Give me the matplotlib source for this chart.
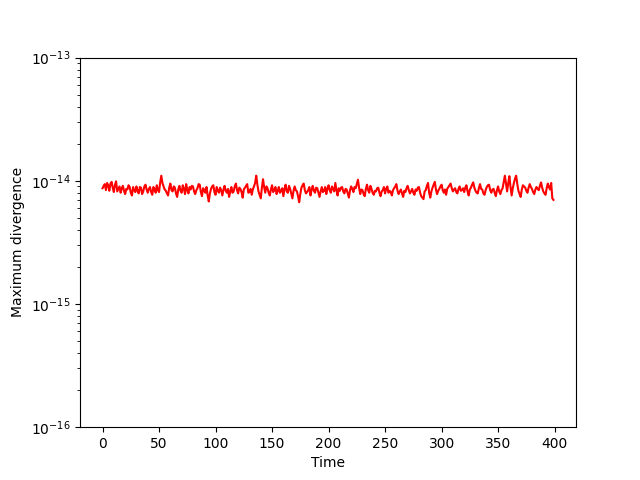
import numpy as np
import matplotlib
matplotlib.use("Agg")
import matplotlib.pyplot as plt

# one sample per time unit
time = np.arange(0, 400)

# maximum divergence (units of 1e-15)
# values at even times
div_even = [
    8.7, 9.4, 9.6, 8.3, 9.8, 8.1, 9.9, 8.6, 8.0, 9.1, 7.8, 8.5, 8.9, 7.6, 8.4, 9.0, 7.9, 8.8, 8.2, 9.3,
    8.0, 8.9, 7.7, 8.6, 9.2, 8.1, 11.0, 9.0, 8.3, 7.6, 9.5, 8.2, 8.8, 7.4, 9.1, 8.0, 8.6, 9.4, 7.9, 8.5,
    9.0, 7.8, 8.7, 9.3, 7.5, 8.4, 8.9, 6.8, 8.6, 9.2, 7.7, 8.3, 8.8, 7.6, 9.1, 8.0, 7.4, 8.9, 8.2, 9.5,
    7.9, 8.6, 7.3, 8.8, 9.4, 8.1, 7.7, 9.0, 11.0, 8.2, 7.2, 10.3, 8.0, 8.7, 7.6, 9.2, 8.4, 7.8, 8.9, 8.3,
    7.5, 9.3, 8.0, 8.6, 7.2, 9.0, 8.2, 6.7, 8.8, 9.5, 7.9, 8.4, 7.6, 9.1, 8.0, 8.7, 7.4, 8.9, 8.3, 7.8,
    9.2, 8.0, 8.6, 9.6, 7.6, 8.3, 8.9, 7.9, 8.5, 7.3, 9.0, 8.1, 8.7, 10.2, 7.8, 8.4, 7.5, 9.3, 8.0, 8.6,
    7.7, 8.2, 8.8, 7.5, 8.4, 7.9, 9.0, 8.3, 7.6, 8.7, 9.4, 7.8, 8.5, 7.4, 8.1, 9.1, 7.9, 8.6, 7.7, 8.3,
    8.9, 7.5, 7.1, 8.4, 9.6, 7.3, 8.8, 9.8, 7.8, 8.6, 9.3, 8.0, 7.7, 8.9, 9.5, 8.2, 8.7, 7.9, 9.0, 8.4,
    8.1, 9.2, 7.6, 8.8, 9.7, 8.3, 7.9, 9.4, 8.5, 7.7, 8.9, 9.3, 8.0, 8.6, 7.5, 9.0, 7.8, 8.7, 11.0, 8.2,
    10.9, 7.6, 9.6, 11.0, 8.3, 7.4, 9.2, 8.8, 8.0, 9.4, 8.6, 7.8, 8.9, 8.4, 9.7, 8.2, 7.7, 9.5, 8.5, 7.2,
]
# values at odd times
div_odd = [
    9.1, 8.4, 9.2, 9.5, 8.8, 9.3, 8.2, 9.0, 8.7, 8.3, 8.6, 9.2, 8.0, 8.9, 8.1, 8.3, 8.9, 7.8, 9.0, 8.5,
    8.6, 8.1, 8.9, 8.0, 8.4, 9.7, 9.6, 8.5, 7.9, 8.8, 8.4, 9.0, 7.9, 8.5, 8.3, 9.2, 7.8, 8.4, 8.9, 9.1,
    8.2, 8.4, 9.4, 8.1, 8.7, 8.0, 7.6, 7.9, 9.0, 8.1, 8.9, 8.0, 8.4, 8.5, 8.3, 8.6, 8.2, 8.0, 9.0, 8.4,
    8.8, 8.1, 8.5, 9.1, 8.0, 8.6, 8.5, 9.6, 9.3, 7.7, 8.8, 8.9, 9.0, 8.0, 8.5, 8.1, 8.9, 8.3, 8.0, 8.7,
    8.6, 8.2, 9.1, 7.9, 8.3, 8.4, 7.5, 7.8, 9.2, 8.4, 8.1, 8.9, 8.5, 8.3, 8.8, 8.0, 8.2, 8.1, 8.9, 8.6,
    8.4, 9.0, 8.2, 8.4, 8.7, 8.8, 8.2, 8.6, 7.9, 8.4, 8.6, 8.9, 9.4, 8.8, 8.5, 7.8, 8.6, 8.4, 9.1, 8.0,
    8.3, 8.7, 8.0, 8.2, 8.9, 8.6, 8.0, 8.1, 8.4, 9.0, 8.3, 8.2, 7.9, 8.3, 8.7, 8.4, 8.2, 8.0, 8.5, 8.8,
    8.0, 7.3, 8.2, 9.1, 8.0, 8.2, 9.3, 8.5, 8.3, 9.0, 8.4, 8.5, 8.6, 9.2, 8.7, 8.5, 8.1, 8.6, 8.3, 8.7,
    8.8, 8.2, 8.5, 9.3, 8.8, 8.0, 8.7, 8.6, 7.9, 8.4, 9.2, 8.4, 8.5, 8.0, 8.4, 8.2, 8.4, 9.8, 9.5, 9.6,
    8.9, 8.7, 10.4, 9.4, 7.8, 8.5, 9.0, 8.3, 8.8, 8.9, 8.1, 8.5, 8.6, 9.1, 8.8, 7.9, 8.7, 8.9, 9.6, 7.0,
]
div_e15 = np.empty(400)
div_e15[0::2] = div_even
div_e15[1::2] = div_odd
divergence = div_e15 * 1e-15

fig, ax = plt.subplots(figsize=(6.4, 4.8), dpi=100)
ax.semilogy(time, divergence, color='red')
ax.set_ylim(1e-16, 1e-13)
ax.set_xlabel('Time')
ax.set_ylabel('Maximum divergence')

fig.savefig('out.png')
